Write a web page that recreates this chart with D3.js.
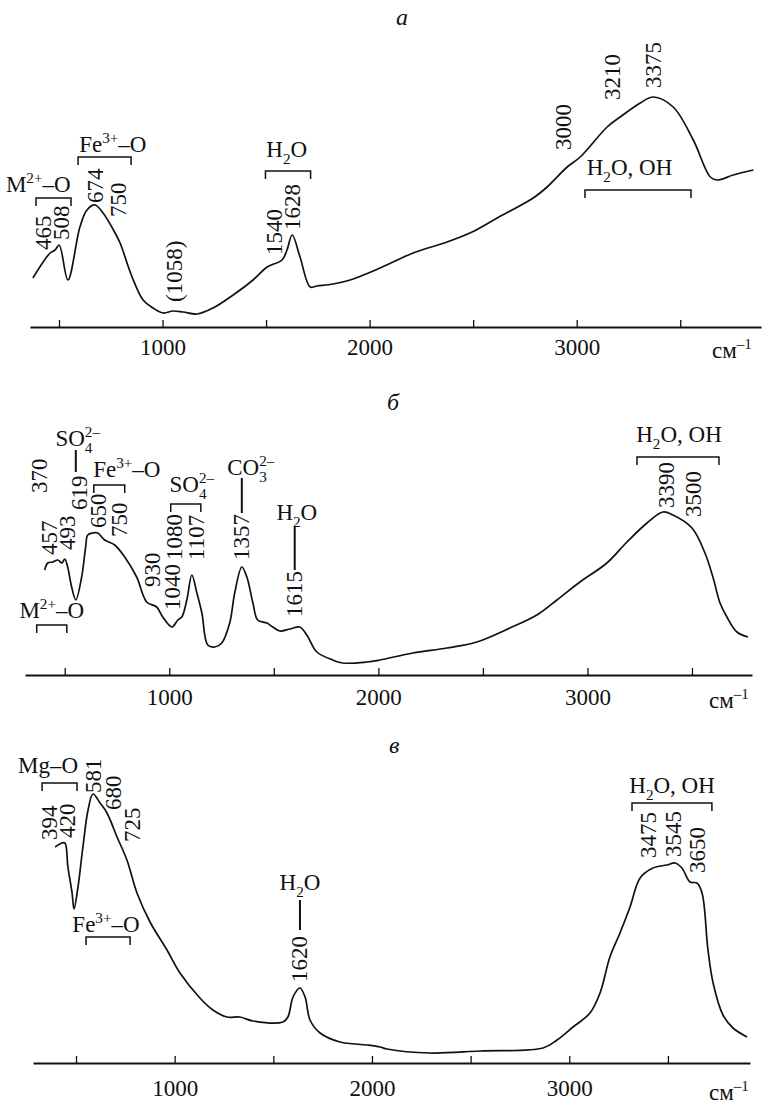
<!DOCTYPE html>
<html>
<head>
<meta charset="utf-8">
<script src="https://cdn.jsdelivr.net/npm/d3@7"></script>
<style>
  body { margin: 0; background: #fff; }
  svg text { font-family: "Liberation Serif", "Times New Roman", serif; fill: #111; }
</style>
</head>
<body>
<div id="chart"></div>
<script>
// ---- spectrum a ----
var wnA = [374, 457, 481, 501, 543, 601, 635, 674, 713, 771, 795, 853, 906, 954, 1002, 1051, 1099, 1167, 1244, 1341, 1437, 1505, 1577, 1601, 1626, 1664, 1713, 1746, 1824, 1906, 2051, 2210, 2374, 2495, 2616, 2790, 2857, 2954, 3017, 3147, 3210, 3307, 3370, 3466, 3563, 3645, 3679, 3756, 3853];
var absA = [19.6, 29.6, 30.8, 32.8, 18.8, 40, 46.8, 48.8, 45.6, 37.6, 33.6, 20, 10.8, 7.6, 5.6, 6.4, 6, 5.2, 7.6, 12.8, 18.8, 24, 26.8, 30.8, 36.8, 28, 16, 16.4, 17.2, 18.8, 23.6, 29.6, 34, 38, 43.6, 51.6, 56, 64, 68, 80, 84, 89.6, 92, 88, 74.8, 60, 58.8, 60.8, 62.8];
// peak labels: text, wavenumber, height (bottom of rotated label)
var peaksA = [["465", 423, 30.8], ["508", 514, 34.8], ["674", 674, 49.6], ["750", 785, 44], ["(1058)", 1060, 10], ["1540", 1543, 28.8], ["1628", 1630, 38.8], ["3000", 2935, 70.8], ["3210", 3171, 90.8], ["3375", 3370, 95.6]];
// assignments: text, centre wavenumber, baseline height, bracket [from, to, height] or stick [wavenumber, top, bottom]
var groupsA = [
  ["M^{2+}–O", 400, 54, "bracket", [389, 558, 51.6]],
  ["Fe^{3+}–O", 760, 70, "bracket", [592, 848, 68]],
  ["H_{2}O", 1600, 68, "bracket", [1497, 1715, 62.4]],
  ["H_{2}O, OH", 3255, 60.8, "bracket", [3040, 3552, 54.8]]
];

// ---- spectrum б ----
var wnB = [404, 419, 443, 467, 486, 500, 514, 533, 553, 581, 600, 610, 634, 658, 691, 739, 787, 844, 892, 940, 969, 1012, 1041, 1060, 1084, 1108, 1132, 1156, 1184, 1218, 1251, 1289, 1313, 1347, 1371, 1400, 1423, 1467, 1495, 1529, 1577, 1624, 1658, 1706, 1782, 1830, 1945, 2007, 2165, 2328, 2471, 2629, 2758, 2854, 2964, 3093, 3189, 3285, 3361, 3409, 3500, 3562, 3600, 3634, 3667, 3715, 3768];
var absB = [42, 44.8, 45.2, 46, 44.8, 46.4, 43.2, 35.2, 30, 39.2, 51.2, 56, 56.8, 56.8, 54, 52, 47.2, 39.2, 29.2, 27.2, 23.2, 19.2, 22, 23.2, 30, 40, 32.8, 24.8, 12, 11.2, 12.8, 20.8, 32.8, 43.2, 39.2, 28.8, 22, 20.8, 19.2, 17.6, 18.4, 19.2, 16, 9.2, 6, 4.8, 5.2, 6, 8.8, 10.8, 13.2, 18.8, 24, 30, 37.2, 44.8, 53.2, 60.8, 65.2, 64, 58.8, 48.8, 39.2, 28.8, 23.2, 17.2, 15.2];
var peaksB = [["370", 380, 72.8], ["457", 428, 48], ["493", 514, 50], ["619", 572, 66], ["650", 663, 58.8], ["750", 763, 55.2], ["930", 921, 35.2], ["1040", 1017, 26], ["1080", 1026, 46], ["1107", 1132, 46], ["1357", 1347, 46], ["1615", 1600, 23.2], ["3390", 3376, 66.8], ["3500", 3505, 63.2]];
var groupsB = [
  ["SO_{4}^{2–}", 562, 91.6, "stick", [553, 90, 81.2]],
  ["Fe^{3+}–O", 797, 79.2, "bracket", [639, 787, 76]],
  ["SO_{4}^{2–}", 1108, 73.2, "bracket", [1007, 1151, 68.4]],
  ["CO_{3}^{2–}", 1390, 80, "stick", [1347, 78.8, 64.8]],
  ["H_{2}O", 1610, 62, "stick", [1600, 59.2, 42]],
  ["M^{2+}–O", 438, 22.8, "bracket", [366, 510, 20]],
  ["H_{2}O, OH", 3438, 93.2, "bracket", [3237, 3629, 87.2]]
];

// ---- spectrum в ----
var wnC = [394, 429, 444, 459, 480, 490, 510, 535, 561, 586, 622, 657, 708, 758, 809, 875, 961, 1027, 1128, 1194, 1265, 1331, 1397, 1549, 1574, 1600, 1635, 1661, 1686, 1737, 1838, 1975, 2041, 2076, 2294, 2548, 2867, 2938, 3019, 3105, 3156, 3206, 3257, 3308, 3359, 3424, 3495, 3536, 3571, 3612, 3647, 3673, 3703, 3729, 3779, 3830, 3901];
var absC = [86.4, 88, 88, 78.4, 68, 61.6, 70.4, 86.4, 101.2, 107.6, 104, 100, 90.4, 81.2, 68, 56.4, 45.2, 36, 26, 21.2, 18.4, 18.4, 16.8, 16.4, 18.4, 26.4, 30, 26.4, 17.2, 12, 8.4, 7.2, 6.4, 5.6, 4, 4.8, 6, 9.2, 14.4, 20, 28, 42.4, 52, 62.4, 74, 78, 79.2, 80, 78, 72.4, 72, 68, 45.2, 32, 19.2, 14, 10.4];
var peaksC = [["394", 368, 89.2], ["420", 459, 90], ["581", 591, 108], ["680", 688, 101.2], ["725", 784, 88.4], ["1620", 1635, 32.4], ["3475", 3404, 82], ["3545", 3526, 82.4], ["3650", 3652, 76]];
var groupsC = [
  ["Mg–O", 358, 116, "bracket", [328, 505, 112]],
  ["Fe^{3+}–O", 652, 52.4, "bracket", [551, 774, 50.4]],
  ["H_{2}O", 1635, 69.2, "stick", [1635, 65.2, 53.2]],
  ["H_{2}O, OH", 3521, 108, "bracket", [3318, 3723, 104]]
];

var tickValues = [500, 1000, 1500, 2000, 2500, 3000, 3500];
var unitLabel = "см^{–1}";

var W = 763, H = 1105, FS = 23;

var panels = [
  {letter: "а", wn: wnA, ab: absA, peaks: peaksA, groups: groupsA,
   domain: [360, 3890], range: [30, 761], axisY: 327, letterX: 396, letterY: 25, pad: 12, unitX: 712, unitY: 358},
  {letter: "б", wn: wnB, ab: absB, peaks: peaksB, groups: groupsB,
   domain: [310, 3787], range: [25, 752], axisY: 675, letterX: 387, letterY: 410, pad: 14, unitX: 709, unitY: 708},
  {letter: "в", wn: wnC, ab: absC, peaks: peaksC, groups: groupsC,
   domain: [282, 3916], range: [33, 750], axisY: 1063, letterX: 389, letterY: 753, pad: 17, unitX: 709, unitY: 1100}
];

var svg = d3.select("#chart").append("svg")
  .attr("width", W)
  .attr("height", H);

// text with _{sub} and ^{sup}; a sup right after a sub is stacked above it
function richText(text, str, size) {
  var parts = str.split(/(_\{[^}]*\}|\^\{[^}]*\})/).filter(function(s) { return s.length; });
  var prev = null, subW = 0, small = size * 0.66, down = size * 0.3, up = size * 0.4;
  parts.forEach(function(p) {
    var ts;
    if (p.indexOf("_{") === 0) {
      ts = text.append("tspan").attr("font-size", small).attr("dy", down).text(p.slice(2, -1));
      subW = ts.node().getComputedTextLength();
      prev = "sub";
    } else if (p.indexOf("^{") === 0) {
      ts = text.append("tspan").attr("font-size", small);
      if (prev === "sub") ts.attr("dx", -subW).attr("dy", -down - up);
      else ts.attr("dy", -up);
      ts.text(p.slice(2, -1));
      prev = "sup";
    } else {
      ts = text.append("tspan").text(p);
      if (prev === "sub") ts.attr("dy", -down);
      if (prev === "sup") ts.attr("dy", up);
      prev = null;
    }
  });
}

panels.forEach(function(p) {
  var x = d3.scaleLinear().domain(p.domain).range(p.range);
  var y = d3.scaleLinear().domain([0, 100]).range([p.axisY, p.axisY - 250]);
  var g = svg.append("g");

  // axis: ticks pointing up, labels below
  var axis = d3.axisBottom(x)
    .tickValues(tickValues)
    .tickSizeInner(-7)
    .tickSizeOuter(0)
    .tickPadding(p.pad)
    .tickFormat(function(d) { return d % 1000 === 0 ? d : ""; });

  var ax = g.append("g")
    .attr("transform", "translate(0," + p.axisY + ")")
    .call(axis);
  ax.select(".domain").attr("stroke", "#111").attr("stroke-width", 2);
  ax.selectAll(".tick line").attr("stroke", "#111").attr("stroke-width", 1.3);
  ax.selectAll(".tick text")
    .attr("font-size", FS)
    .attr("font-family", '"Liberation Serif", "Times New Roman", serif')
    .attr("fill", "#111");

  var unit = g.append("text")
    .attr("x", p.unitX)
    .attr("y", p.unitY)
    .attr("font-size", FS);
  richText(unit, unitLabel, FS);

  // panel letter
  g.append("text")
    .attr("x", p.letterX)
    .attr("y", p.letterY)
    .attr("font-size", FS + 1)
    .attr("font-style", "italic")
    .text(p.letter);

  // spectrum
  var pts = p.wn.map(function(w, i) { return [w, p.ab[i]]; });
  var line = d3.line()
    .x(function(d) { return x(d[0]); })
    .y(function(d) { return y(d[1]); })
    .curve(d3.curveCatmullRom.alpha(0.5));

  g.append("path")
    .datum(pts)
    .attr("d", line)
    .attr("fill", "none")
    .attr("stroke", "#111")
    .attr("stroke-width", 1.7)
    .attr("stroke-linejoin", "round");

  // rotated peak labels
  g.selectAll(".peak")
    .data(p.peaks)
    .enter().append("text")
      .attr("class", "peak")
      .attr("transform", function(d) { return "translate(" + x(d[1]) + "," + y(d[2]) + ") rotate(-90)"; })
      .attr("dominant-baseline", "central")
      .attr("font-size", FS)
      .text(function(d) { return d[0]; });

  // assignment labels with brackets / sticks
  p.groups.forEach(function(gr) {
    var t = g.append("text")
      .attr("x", x(gr[1]))
      .attr("y", y(gr[2]))
      .attr("text-anchor", "middle")
      .attr("font-size", FS);
    richText(t, gr[0], FS);

    var m = gr[4];
    if (gr[3] === "bracket") {
      var x1 = x(m[0]), x2 = x(m[1]), yy = y(m[2]);
      g.append("path")
        .attr("d", "M" + x1 + "," + (yy + 8) + "V" + yy + "H" + x2 + "V" + (yy + 8))
        .attr("fill", "none")
        .attr("stroke", "#111")
        .attr("stroke-width", 1.5);
    } else {
      g.append("line")
        .attr("x1", x(m[0])).attr("x2", x(m[0]))
        .attr("y1", y(m[1])).attr("y2", y(m[2]))
        .attr("stroke", "#111")
        .attr("stroke-width", 2);
    }
  });
});
</script>
</body>
</html>
